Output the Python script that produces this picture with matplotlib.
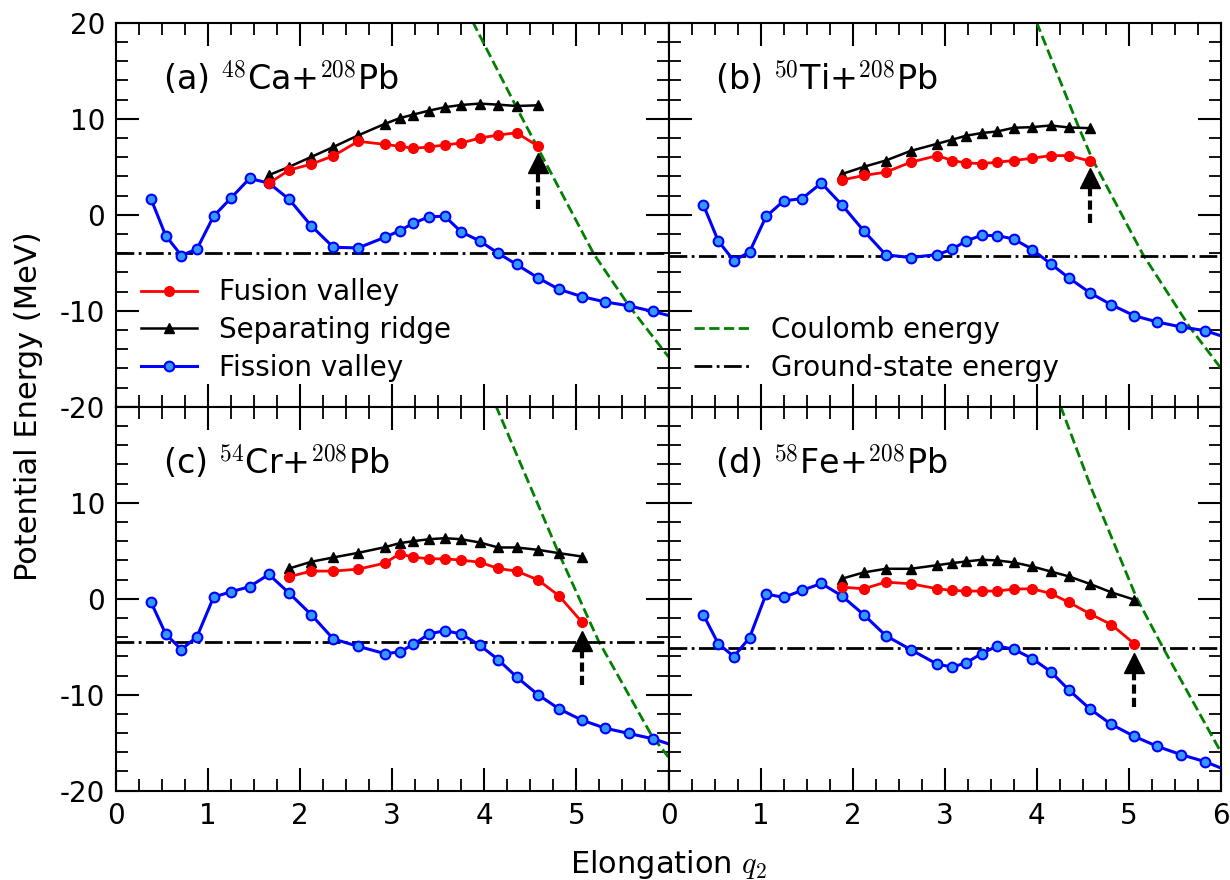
import numpy as np
import matplotlib
matplotlib.use('Agg')
import matplotlib.pyplot as plt
from matplotlib.lines import Line2D
from matplotlib.ticker import MultipleLocator

plt.rcParams['font.family'] = ['DejaVu Sans']
plt.rcParams['mathtext.fontset'] = 'cm'
plt.rcParams['axes.unicode_minus'] = False

# ── Data ──
# elongation grid of the fission valley (last point lies just outside the axes)
q_fis = [0.38, 0.54, 0.71, 0.88, 1.06, 1.25, 1.45, 1.66, 1.88, 2.12, 2.36, 2.63,
         2.92, 3.08, 3.23, 3.40, 3.57, 3.75, 3.95, 4.15, 4.35, 4.58, 4.81, 5.06,
         5.31, 5.57, 5.83, 6.09]
q_fus_a = [1.66, 1.88, 2.12, 2.36, 2.63, 2.92, 3.08, 3.23, 3.40, 3.57, 3.75, 3.95,
           4.15, 4.35, 4.58]
q_fus_b = q_fus_a[1:]
q_fus_cd = q_fus_b + [4.81, 5.06]

fis_a = [1.66, -2.17, -4.24, -3.55, -0.14, 1.76, 3.79, 3.31, 1.62, -1.14, -3.38, -3.45,
         -2.34, -1.66, -0.86, -0.21, -0.14, -1.79, -2.72, -4.0, -5.17, -6.55, -7.76,
         -8.52, -9.07, -9.48, -10.07, -10.7]
fis_b = [1.0, -2.72, -4.79, -3.86, -0.17, 1.45, 1.69, 3.31, 1.07, -1.66, -4.17, -4.45,
         -4.14, -3.59, -2.72, -2.14, -2.17, -2.52, -3.62, -5.10, -6.59, -8.14, -9.38,
         -10.52, -11.17, -11.69, -12.07, -12.9]
fis_c = [-0.35, -3.67, -5.30, -3.95, 0.17, 0.73, 1.25, 2.53, 0.59, -1.66, -4.19, -4.96,
         -5.72, -5.55, -4.75, -3.67, -3.33, -3.67, -4.85, -6.34, -8.15, -9.98, -11.47,
         -12.65, -13.48, -14.04, -14.59, -15.4]
fis_d = [-1.70, -4.68, -6.03, -4.06, 0.49, 0.14, 0.87, 1.59, 0.31, -1.66, -3.85, -5.30,
         -6.83, -7.11, -6.69, -5.72, -4.92, -5.27, -6.24, -7.59, -9.53, -11.51, -13.10,
         -14.35, -15.39, -16.26, -16.98, -18.0]

fus_a = [3.28, 4.66, 5.28, 6.14, 7.66, 7.34, 7.14, 6.93, 7.07, 7.28, 7.48, 8.0, 8.31,
         8.55, 7.17]
fus_b = [3.62, 4.10, 4.45, 5.48, 6.17, 5.66, 5.41, 5.34, 5.48, 5.66, 5.90, 6.17, 6.17,
         5.59]
fus_c = [2.29, 2.88, 2.88, 3.08, 3.71, 4.68, 4.33, 4.16, 4.16, 4.02, 3.81, 3.15, 2.88,
         1.98, 0.31, -2.43]
fus_d = [1.21, 1.04, 1.73, 1.56, 1.04, 0.87, 0.80, 0.80, 0.80, 1.01, 1.04, 0.55, -0.38,
         -1.59, -2.70, -4.71]

rid_a = [4.14, 5.0, 6.03, 7.07, 8.28, 9.48, 10.07, 10.45, 10.86, 11.21, 11.45, 11.59,
         11.48, 11.34, 11.41]
rid_b = [4.24, 5.0, 5.66, 6.66, 7.41, 7.83, 8.24, 8.52, 8.69, 9.07, 9.14, 9.31, 9.10,
         9.03]
rid_c = [3.15, 3.85, 4.30, 4.78, 5.37, 5.79, 6.0, 6.20, 6.31, 6.20, 5.86, 5.34, 5.34,
         5.10, 4.75, 4.40]
rid_d = [2.08, 2.74, 3.12, 3.12, 3.50, 3.71, 3.88, 4.06, 3.99, 3.78, 3.36, 2.84, 2.32,
         1.53, 0.66, -0.10]

coul_q_a = [3.80, 3.88, 4.36, 4.59, 5.19, 5.58, 6.0]
coul_e_a = [21.5, 20.0, 11.0, 6.8, -4.1, -9.6, -14.8]
coul_q_b = [3.94, 4.0, 4.46, 4.60, 5.15, 5.66, 6.0]
coul_e_b = [21.5, 20.0, 9.0, 5.85, -4.1, -11.7, -16.0]
coul_q_c = [4.06, 4.13, 4.81, 5.24, 5.82, 6.0]
coul_e_c = [21.5, 20.0, 4.7, -4.4, -14.3, -16.5]
coul_q_d = [4.20, 4.26, 4.60, 5.08, 5.37, 6.0]
coul_e_d = [21.5, 20.0, 11.3, 0.16, -5.1, -16.0]

ground = [-4.0, -4.3, -4.5, -5.15]

arrow_q = [4.58, 4.58, 5.06, 5.06]
arrow_tip = [6.4, 4.8, -3.4, -5.7]
arrow_tail = [0.6, -0.9, -9.0, -11.3]

labels = ['(a) $^{48}$Ca+$^{208}$Pb', '(b) $^{50}$Ti+$^{208}$Pb',
          '(c) $^{54}$Cr+$^{208}$Pb', '(d) $^{58}$Fe+$^{208}$Pb']

panels = [
    (q_fus_a, fus_a, rid_a, fis_a, coul_q_a, coul_e_a),
    (q_fus_b, fus_b, rid_b, fis_b, coul_q_b, coul_e_b),
    (q_fus_cd, fus_c, rid_c, fis_c, coul_q_c, coul_e_c),
    (q_fus_cd, fus_d, rid_d, fis_d, coul_q_d, coul_e_d),
]

fig = plt.figure(figsize=(12.3, 8.8), dpi=100)
axs = fig.subplots(2, 2).ravel()
fig.subplots_adjust(left=0.0943, right=0.9927, bottom=0.1015, top=0.974,
                    wspace=0, hspace=0)

for i, (ax, (qf, fus, rid, fis, cq, ce)) in enumerate(zip(axs, panels)):
    ax.plot(cq, ce, color='green', ls='--', lw=2, zorder=2)
    ax.axhline(ground[i], color='black', ls='-.', lw=2, zorder=2)
    ax.plot(q_fis, fis, color='blue', lw=2.2, marker='o', ms=7,
            mfc='#3399ff', mec='blue', mew=1.5, zorder=3)
    ax.plot(qf, rid, color='black', lw=1.8, marker='^', ms=7, zorder=4)
    ax.plot(qf, fus, color='red', lw=2, marker='o', ms=7, zorder=5)

    # dashed arrow with a solid head
    head = 2.0
    ax.plot([arrow_q[i], arrow_q[i]], [arrow_tail[i], arrow_tip[i] - head],
            color='black', lw=3, dashes=(2.2, 1.0), zorder=6)
    ax.plot(arrow_q[i], arrow_tip[i] - head / 2, marker='^', ms=14,
            color='black', zorder=6)

    ax.text(0.085, 0.824, labels[i], transform=ax.transAxes, fontsize=24,
            va='baseline', ha='left')

    ax.set_xlim(0, 6)
    ax.set_ylim(-20, 20)
    ax.xaxis.set_major_locator(MultipleLocator(1))
    ax.xaxis.set_minor_locator(MultipleLocator(0.25))
    ax.yaxis.set_major_locator(MultipleLocator(10))
    ax.yaxis.set_minor_locator(MultipleLocator(2))
    ax.tick_params(which='both', direction='in', top=True, right=True,
                   labelsize=20)
    ax.tick_params(which='major', length=16.5, width=1.5, pad=8)
    ax.tick_params(which='minor', length=8.5, width=1.3)
    for s in ax.spines.values():
        s.set_linewidth(1.5)

    xlab = ['0', '1', '2', '3', '4', '5', '6']
    ylab = ['-20', '-10', '0', '10', '20']
    if i in (0, 1):
        ax.set_xticks(range(7))
        ax.set_xticklabels([''] * 7)
    else:
        ax.set_xticks(range(7))
        ax.set_xticklabels(xlab if i == 3 else xlab[:-1] + [''])
    ax.set_yticks([-20, -10, 0, 10, 20])
    if i == 0:
        ax.set_yticklabels(ylab)
    elif i == 2:
        ax.set_yticklabels(ylab[:-1] + [''])
    else:
        ax.set_yticklabels([''] * 5)

h1 = [Line2D([], [], color='red', lw=2, marker='o', ms=7),
      Line2D([], [], color='black', lw=1.8, marker='^', ms=7),
      Line2D([], [], color='blue', lw=2.2, marker='o', ms=7, mfc='#3399ff',
             mec='blue', mew=1.5)]
axs[0].legend(h1, ['Fusion valley', 'Separating ridge', 'Fission valley'],
              loc='lower left', frameon=False, fontsize=20, labelspacing=0.35)
h2 = [Line2D([], [], color='green', ls='--', lw=2),
      Line2D([], [], color='black', ls='-.', lw=2)]
axs[1].legend(h2, ['Coulomb energy', 'Ground-state energy'],
              loc='lower left', frameon=False, fontsize=20, labelspacing=0.35)

fig.text(0.011, 0.538, 'Potential Energy (MeV)', rotation=90, fontsize=22,
         va='center', ha='left')
fig.text(0.5435, 0.008, 'Elongation $q_2$', fontsize=22, ha='center',
         va='baseline')

fig.savefig('out.png', dpi=100)
